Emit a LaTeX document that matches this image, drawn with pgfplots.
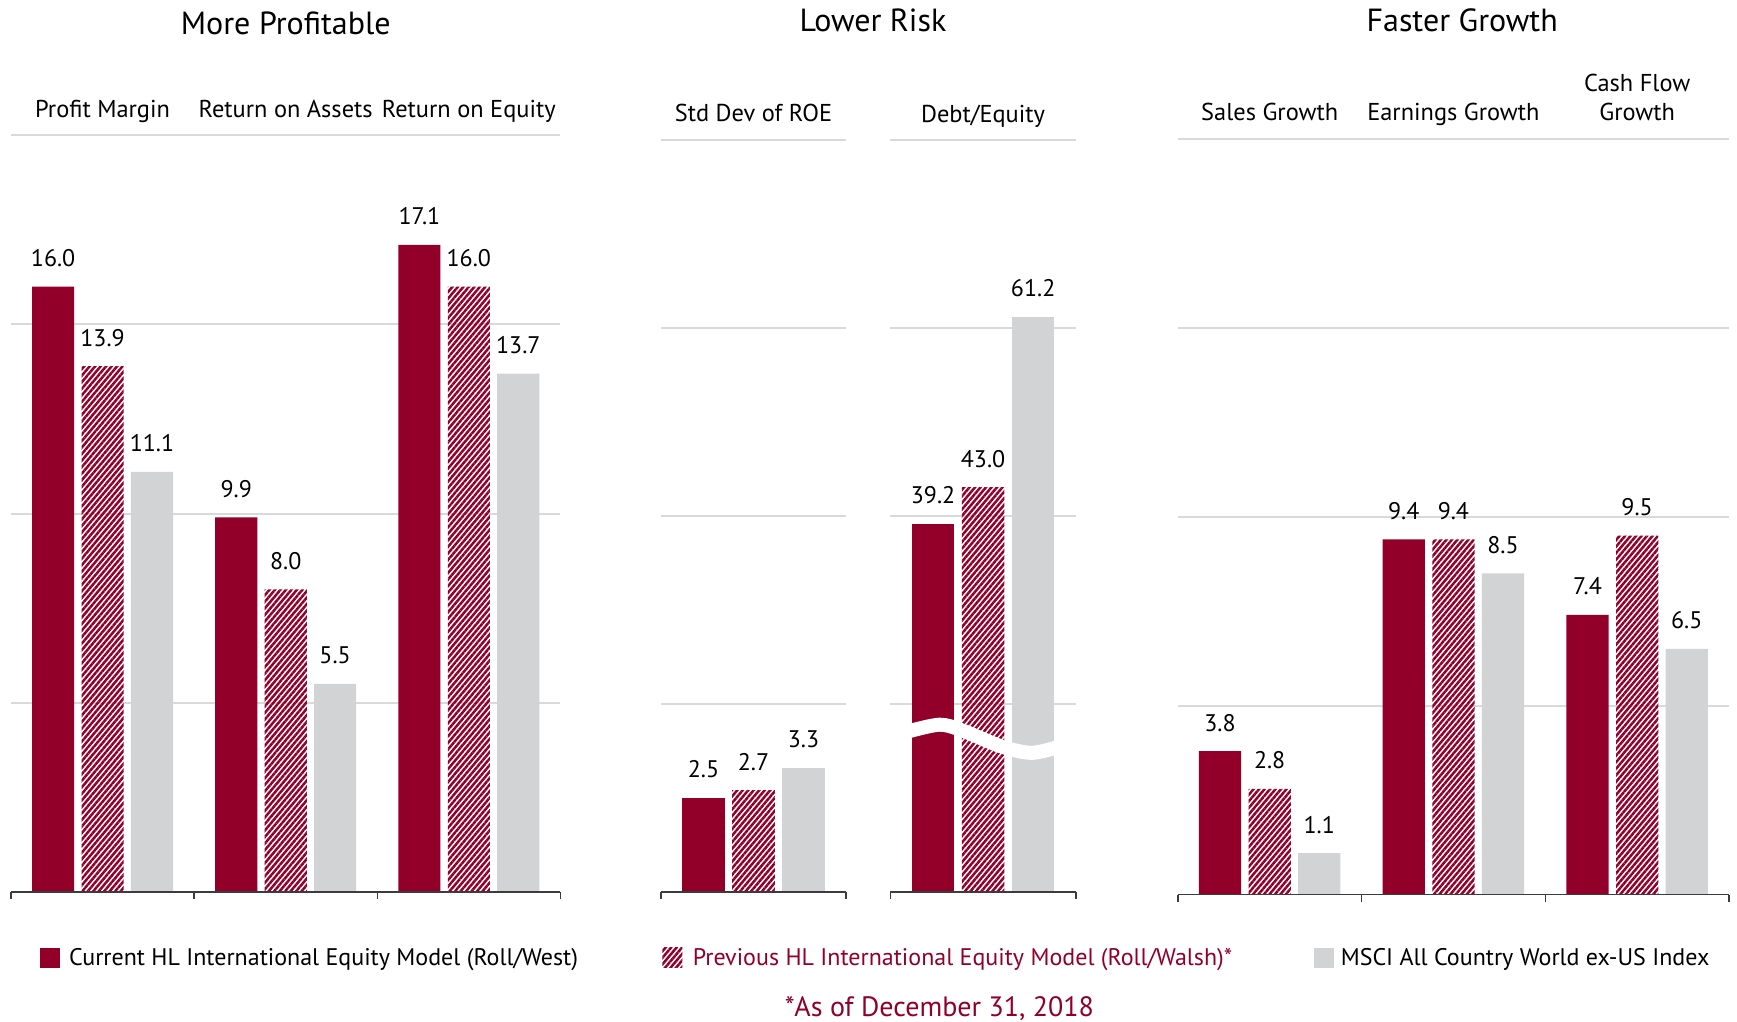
\documentclass[border=0pt]{standalone}
\usepackage{pgfplots}
\pgfplotsset{compat=1.18}
\usepackage{fontspec}
\setmainfont{PT Sans}
\usetikzlibrary{patterns.meta}
\definecolor{hlred}{RGB}{146,0,42}
\definecolor{msci}{RGB}{210,211,213}
\definecolor{gridgray}{RGB}{217,217,217}
\definecolor{axisgray}{RGB}{60,60,60}
\tikzset{hatch/.style={pattern={Lines[angle=50,distance=2.1pt,line width=1.25pt]}, pattern color=hlred}}
\pgfplotsset{
  /pgf/number format/assume math mode=true,
  hlaxis/.style={
    scale only axis, ybar, ymin=0,
    axis line style={draw=none},
    ymajorgrids, grid style={draw=gridgray, line width=1pt},
    ytick style={draw=none}, yticklabels={},
    xtick style={draw=axisgray, line width=0.75pt},
    tick align=outside, xtick pos=lower, major tick length=3.5pt,
    xticklabels={},
    clip=false,
    nodes near coords={\pgfmathprintnumber[fixed,fixed zerofill,precision=1]{\pgfplotspointmeta}},
    every node near coord/.append style={font=\fontsize{12}{14}\selectfont, anchor=base, inner sep=0pt, yshift=10pt, text=black},
  },
  cur/.style={fill=hlred, draw=none, bar width=0.23, bar shift=-0.27},
  prev/.style={hatch, draw=none, bar width=0.23, bar shift=0},
  idx/.style={fill=msci, draw=none, bar width=0.23, bar shift=0.27},
}
\newcommand{\catfont}{\fontsize{12.2}{14}\selectfont}
\newcommand{\titlefont}{\fontsize{16}{18}\selectfont}
\begin{document}
\begin{tikzpicture}
\useasboundingbox (0,0) rectangle (868.5pt,511pt);
% ---------- Panel 1 ----------
\begin{axis}[hlaxis, at={(5.5pt,65pt)}, anchor=south west,
  width=274.7pt, height=378.4pt, xmin=-0.5, xmax=2.5, ymax=20,
  ytick={5,10,15,20}, xtick={-0.5,0.5,1.5,2.5}]
\addplot[cur] coordinates {(0,16.0) (1,9.9) (2,17.1)};
\addplot[prev] coordinates {(0,13.9) (1,8.0) (2,16.0)};
\addplot[idx] coordinates {(0,11.1) (1,5.5) (2,13.7)};
\draw[axisgray, line width=0.75pt] (rel axis cs:0,0) -- (rel axis cs:1,0);
\node[font=\catfont, anchor=base, yshift=9pt] at (axis cs:0,20) {Profit Margin};
\node[font=\catfont, anchor=base, yshift=9pt] at (axis cs:1,20) {Return on Assets};
\node[font=\catfont, anchor=base, yshift=9pt] at (axis cs:2,20) {Return on Equity};
\end{axis}
% ---------- Panel 2a ----------
\begin{axis}[hlaxis, at={(330.5pt,65pt)}, anchor=south west,
  width=92.5pt, height=376pt, xmin=-0.5, xmax=0.5, ymax=20,
  ytick={5,10,15,20}, xtick={-0.5,0.5}]
\addplot[cur] coordinates {(0,2.5)};
\addplot[prev] coordinates {(0,2.7)};
\addplot[idx] coordinates {(0,3.3)};
\draw[axisgray, line width=0.75pt] (rel axis cs:0,0) -- (rel axis cs:1,0);
\node[font=\catfont, anchor=base, yshift=9pt] at (axis cs:0,20) {Std Dev of ROE};
\end{axis}
% ---------- Panel 2b ----------
\begin{axis}[hlaxis, at={(445.2pt,65pt)}, anchor=south west,
  width=92.7pt, height=376pt, xmin=-0.5, xmax=0.5, ymax=80,
  ytick={20,40,60,80}, xtick={-0.5,0.5}]
\addplot[cur] coordinates {(0,39.2)};
\addplot[prev] coordinates {(0,43.0)};
\addplot[idx] coordinates {(0,61.2)};
\draw[white, line width=7pt] plot[smooth] coordinates {(-0.40,17.1) (-0.235,17.8) (-0.114,17.2) (0.096,15.5) (0.259,14.8) (0.40,15.4)};
\draw[axisgray, line width=0.75pt] (rel axis cs:0,0) -- (rel axis cs:1,0);
\node[font=\catfont, anchor=base, yshift=9pt] at (axis cs:0,80) {Debt/Equity};
\end{axis}
% ---------- Panel 3 ----------
\begin{axis}[hlaxis, at={(588.9pt,63.65pt)}, anchor=south west,
  width=275.6pt, height=378pt, xmin=-0.5, xmax=2.5, ymax=20,
  ytick={5,10,15,20}, xtick={-0.5,0.5,1.5,2.5}]
\addplot[cur] coordinates {(0,3.8) (1,9.4) (2,7.4)};
\addplot[prev] coordinates {(0,2.8) (1,9.4) (2,9.5)};
\addplot[idx] coordinates {(0,1.1) (1,8.5) (2,6.5)};
\draw[axisgray, line width=0.75pt] (rel axis cs:0,0) -- (rel axis cs:1,0);
\node[font=\catfont, anchor=base, yshift=9pt] at (axis cs:0,20) {Sales Growth};
\node[font=\catfont, anchor=base, yshift=9pt] at (axis cs:1,20) {Earnings Growth};
\node[font=\catfont, anchor=base, yshift=9pt] at (axis cs:2,20) {Growth};
\node[font=\catfont, anchor=base, yshift=23.4pt] at (axis cs:2,20) {Cash Flow};
\end{axis}
% ---------- Titles ----------
\node[font=\titlefont, anchor=base] at (142.9pt,493.6pt) {More Profitable};
\node[font=\titlefont, anchor=base] at (436.5pt,495.3pt) {Lower Risk};
\node[font=\titlefont, anchor=base] at (731.1pt,495.3pt) {Faster Growth};
% ---------- Legend ----------
\fill[hlred] (19.9pt,27pt) rectangle ++(10pt,10pt);
\node[font=\fontsize{12}{14}\selectfont, anchor=base west, inner sep=0pt] at (34.3pt,28pt) {Current HL International Equity Model (Roll/West)};
\fill[hatch] (331.2pt,27pt) rectangle ++(10pt,10pt);
\node[font=\fontsize{12}{14}\selectfont, anchor=base west, inner sep=0pt, text=hlred] at (346.2pt,28pt) {Previous HL International Equity Model (Roll/Walsh)*};
\fill[msci] (656.9pt,27pt) rectangle ++(10pt,10pt);
\node[font=\fontsize{12}{14}\selectfont, anchor=base west, inner sep=0pt] at (670.2pt,28pt) {MSCI All Country World ex-US Index};
% ---------- Footnote ----------
\node[font=\fontsize{14}{16}\selectfont, anchor=base, text=hlred, inner sep=0pt] at (469.7pt,2.8pt) {*As of December 31, 2018};
\end{tikzpicture}
\end{document}
